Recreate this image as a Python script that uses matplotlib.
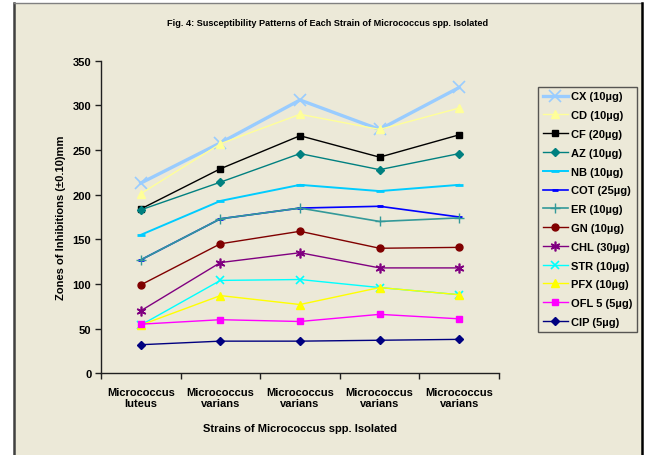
import matplotlib
matplotlib.use("Agg")
import matplotlib.pyplot as plt
from matplotlib.patches import Rectangle

plt.rcParams['font.family'] = ['Liberation Sans', 'DejaVu Sans']

strains = ["Micrococcus\nluteus", "Micrococcus\nvarians", "Micrococcus\nvarians",
           "Micrococcus\nvarians", "Micrococcus\nvarians"]

cx = [213, 258, 306, 273, 320]
cd = [201, 257, 290, 273, 297]
cf = [184, 229, 266, 242, 267]
az = [183, 214, 246, 228, 246]
nb = [155, 193, 211, 204, 211]
cot = [127, 173, 185, 187, 175]
er = [127, 173, 185, 170, 174]
gn = [99, 145, 159, 140, 141]
chl = [70, 124, 135, 118, 118]
strp = [54, 104, 105, 96, 88]
pfx = [54, 87, 77, 96, 88]
ofl = [55, 60, 58, 66, 61]
cip = [32, 36, 36, 37, 38]

labels = ["CX (10µg)", "CD (10µg)", "CF (20µg)", "AZ (10µg)", "NB (10µg)",
          "COT (25µg)", "ER (10µg)", "GN (10µg)", "CHL (30µg)", "STR (10µg)",
          "PFX (10µg)", "OFL 5 (5µg)", "CIP (5µg)"]

styles = [
    dict(color="#99CCFF", lw=2.4, marker="x", ms=8, mew=1.2),
    dict(color="#FFFF99", lw=1.0, marker="^", ms=6),
    dict(color="#000000", lw=1.0, marker="s", ms=5),
    dict(color="#008080", lw=1.0, marker="D", ms=4),
    dict(color="#00CCFF", lw=1.4, marker="_", ms=6, mew=2),
    dict(color="#0000FF", lw=1.2, marker="_", ms=4, mew=2),
    dict(color="#339999", lw=1.2, marker="+", ms=7, mew=1),
    dict(color="#800000", lw=1.0, marker="o", ms=5),
    dict(color="#800080", lw=1.0, marker=(6, 2, 0), ms=7, mew=1.2),
    dict(color="#00FFFF", lw=1.0, marker="x", ms=6, mew=1.2),
    dict(color="#FFFF00", lw=1.0, marker="^", ms=6),
    dict(color="#FF00FF", lw=1.0, marker="s", ms=5),
    dict(color="#000080", lw=1.0, marker="D", ms=4),
]
series = [cx, cd, cf, az, nb, cot, er, gn, chl, strp, pfx, ofl, cip]

bg = "#ECE9D8"
W, H = 646, 456
fig = plt.figure(figsize=(W / 100, H / 100), dpi=100, facecolor="white")

# chart area panel with its frame
fig.patches.append(Rectangle((14 / W, 0), (642 - 14) / W, 1 - 4 / H,
                             transform=fig.transFigure, facecolor=bg,
                             edgecolor="none", zorder=-5))
fig.add_artist(plt.Line2D([14 / W, 14 / W], [0, 1 - 4 / H], color="#404040",
                          lw=1.8, transform=fig.transFigure))
fig.add_artist(plt.Line2D([14 / W, 642 / W], [1 - 4 / H, 1 - 4 / H], color="#808080",
                          lw=1.0, transform=fig.transFigure))
fig.add_artist(plt.Line2D([642 / W, 642 / W], [0, 1 - 4 / H], color="#000000",
                          lw=1.8, transform=fig.transFigure))

ax = fig.add_axes([101 / W, (H - 374.3) / H, (499 - 101) / W, (374.3 - 61.7) / H])
ax.set_facecolor(bg)
ax.set_zorder(2)

x = list(range(len(strains)))
for vals, lab, st in zip(series, labels, styles):
    ax.plot(x, vals, label=lab, color=st["color"], lw=st["lw"], marker=st["marker"],
            ms=st["ms"], mew=st.get("mew", 1), mfc=st["color"], mec=st["color"])

ax.set_xlim(-0.5, len(strains) - 0.5)
ax.set_ylim(0, 350)
ax.set_yticks(range(0, 351, 50))
ax.set_xticks([i + 0.5 for i in range(-1, len(strains))])
ax.set_xticklabels([])
ax.set_xticks(x, minor=True)
ax.set_xticklabels(strains, minor=True, fontsize=8, fontweight="bold", linespacing=1.05)
ax.tick_params(axis="x", which="minor", length=0, pad=10)
ax.tick_params(axis="x", which="major", length=4, width=1, direction="out", color="#202020")
ax.tick_params(axis="y", length=4, width=1, direction="out", color="#202020",
               labelsize=8, pad=3)
for t in ax.get_yticklabels():
    t.set_fontweight("bold")
for s in ["top", "right"]:
    ax.spines[s].set_visible(False)
for s in ["left", "bottom"]:
    ax.spines[s].set_color("#202020")
    ax.spines[s].set_linewidth(1)

ax.set_ylabel("Zones of Inhibitions (±0.10)mm", fontsize=8, fontweight="bold", labelpad=5)
ax.set_xlabel("Strains of Micrococcus spp. Isolated", fontsize=8, fontweight="bold", labelpad=11)

fig.text(328 / W, 1 - 23 / H,
         "Fig. 4: Susceptibility Patterns of Each Strain of Micrococcus spp. Isolated",
         ha="center", va="center", fontsize=6.6, fontweight="bold")

leg = ax.legend(loc="upper left", bbox_to_anchor=(537.5 / W, 1 - 87.5 / H),
                bbox_transform=fig.transFigure, borderaxespad=0, frameon=True,
                fancybox=False, prop=dict(size=8, weight="bold"),
                handlelength=2.3, handletextpad=0.25, labelspacing=0.79,
                borderpad=0.45, markerscale=1.0)
leg.get_frame().set_facecolor(bg)
leg.get_frame().set_edgecolor("#303030")
leg.get_frame().set_linewidth(1)

fig.savefig("out.png", dpi=100, facecolor="white")
